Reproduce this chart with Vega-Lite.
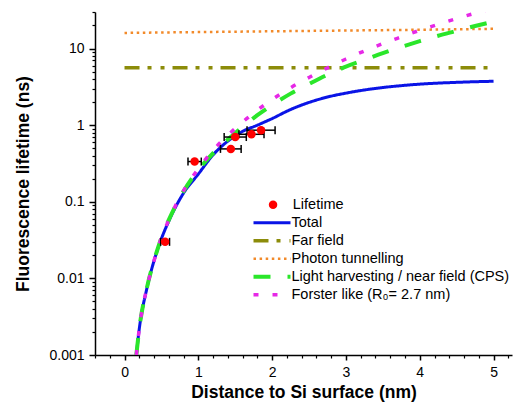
{
  "$schema": "https://vega.github.io/schema/vega-lite/v6.json",
  "width": 417,
  "height": 343,
  "autosize": {"type": "none"},
  "padding": {"left": 95, "top": 12, "right": 1, "bottom": 54},
  "config": {
    "view": {"stroke": null},
    "font": "Liberation Sans",
    "axis": {"grid": false, "domainColor": "black", "tickColor": "black", "labelColor": "black", "titleColor": "black", "labelFont": "Liberation Sans", "titleFont": "Liberation Sans"},
    "legend": {"labelFont": "Liberation Sans", "labelColor": "black", "labelFontSize": 14.5, "labelLimit": 400, "padding": 0, "rowPadding": 0, "clipHeight": 18, "title": null}
  },
  "datasets": {
    "curves": [
      {"series": "Total", "x": 0.16, "y": 0.001}, {"series": "Total", "x": 0.2, "y": 0.0022}, {"series": "Total", "x": 0.3, "y": 0.0072}, {"series": "Total", "x": 0.4, "y": 0.017}, {"series": "Total", "x": 0.5, "y": 0.033}, {"series": "Total", "x": 0.6, "y": 0.056}, {"series": "Total", "x": 0.8, "y": 0.13}, {"series": "Total", "x": 1.0, "y": 0.23}, {"series": "Total", "x": 1.2, "y": 0.41}, {"series": "Total", "x": 1.4, "y": 0.62}, {"series": "Total", "x": 1.6, "y": 0.83}, {"series": "Total", "x": 1.8, "y": 1.0}, {"series": "Total", "x": 2.0, "y": 1.22}, {"series": "Total", "x": 2.25, "y": 1.6}, {"series": "Total", "x": 2.5, "y": 1.98}, {"series": "Total", "x": 2.75, "y": 2.33}, {"series": "Total", "x": 3.0, "y": 2.62}, {"series": "Total", "x": 3.25, "y": 2.88}, {"series": "Total", "x": 3.5, "y": 3.1}, {"series": "Total", "x": 3.75, "y": 3.28}, {"series": "Total", "x": 4.0, "y": 3.43}, {"series": "Total", "x": 4.25, "y": 3.54}, {"series": "Total", "x": 4.5, "y": 3.62}, {"series": "Total", "x": 4.75, "y": 3.69}, {"series": "Total", "x": 5.0, "y": 3.74},
      {"series": "Far field", "x": 0, "y": 5.6}, {"series": "Far field", "x": 5, "y": 5.6},
      {"series": "Photon tunnelling", "x": 0, "y": 16.0}, {"series": "Photon tunnelling", "x": 1, "y": 16.4}, {"series": "Photon tunnelling", "x": 2, "y": 16.8}, {"series": "Photon tunnelling", "x": 3, "y": 17.2}, {"series": "Photon tunnelling", "x": 4, "y": 17.6}, {"series": "Photon tunnelling", "x": 5, "y": 18.1},
      {"series": "Light harvesting / near field (CPS)", "x": 0.16, "y": 0.001}, {"series": "Light harvesting / near field (CPS)", "x": 0.2, "y": 0.0022}, {"series": "Light harvesting / near field (CPS)", "x": 0.3, "y": 0.0073}, {"series": "Light harvesting / near field (CPS)", "x": 0.4, "y": 0.017}, {"series": "Light harvesting / near field (CPS)", "x": 0.5, "y": 0.034}, {"series": "Light harvesting / near field (CPS)", "x": 0.6, "y": 0.058}, {"series": "Light harvesting / near field (CPS)", "x": 0.8, "y": 0.137}, {"series": "Light harvesting / near field (CPS)", "x": 1.0, "y": 0.26}, {"series": "Light harvesting / near field (CPS)", "x": 1.2, "y": 0.43}, {"series": "Light harvesting / near field (CPS)", "x": 1.4, "y": 0.65}, {"series": "Light harvesting / near field (CPS)", "x": 1.6, "y": 0.95}, {"series": "Light harvesting / near field (CPS)", "x": 1.8, "y": 1.35}, {"series": "Light harvesting / near field (CPS)", "x": 2.0, "y": 1.83}, {"series": "Light harvesting / near field (CPS)", "x": 2.25, "y": 2.58}, {"series": "Light harvesting / near field (CPS)", "x": 2.5, "y": 3.45}, {"series": "Light harvesting / near field (CPS)", "x": 2.75, "y": 4.55}, {"series": "Light harvesting / near field (CPS)", "x": 3.0, "y": 5.8}, {"series": "Light harvesting / near field (CPS)", "x": 3.25, "y": 7.1}, {"series": "Light harvesting / near field (CPS)", "x": 3.5, "y": 8.7}, {"series": "Light harvesting / near field (CPS)", "x": 3.75, "y": 10.5}, {"series": "Light harvesting / near field (CPS)", "x": 4.0, "y": 12.5}, {"series": "Light harvesting / near field (CPS)", "x": 4.25, "y": 14.7}, {"series": "Light harvesting / near field (CPS)", "x": 4.5, "y": 17.0}, {"series": "Light harvesting / near field (CPS)", "x": 4.75, "y": 19.7}, {"series": "Light harvesting / near field (CPS)", "x": 5.0, "y": 22.5},
      {"series": "Forster like (R₀= 2.7 nm)", "x": 0.16, "y": 0.001}, {"series": "Forster like (R₀= 2.7 nm)", "x": 0.2, "y": 0.0022}, {"series": "Forster like (R₀= 2.7 nm)", "x": 0.3, "y": 0.0073}, {"series": "Forster like (R₀= 2.7 nm)", "x": 0.4, "y": 0.017}, {"series": "Forster like (R₀= 2.7 nm)", "x": 0.5, "y": 0.034}, {"series": "Forster like (R₀= 2.7 nm)", "x": 0.6, "y": 0.058}, {"series": "Forster like (R₀= 2.7 nm)", "x": 0.8, "y": 0.14}, {"series": "Forster like (R₀= 2.7 nm)", "x": 1.0, "y": 0.27}, {"series": "Forster like (R₀= 2.7 nm)", "x": 1.2, "y": 0.47}, {"series": "Forster like (R₀= 2.7 nm)", "x": 1.4, "y": 0.74}, {"series": "Forster like (R₀= 2.7 nm)", "x": 1.6, "y": 1.1}, {"series": "Forster like (R₀= 2.7 nm)", "x": 1.8, "y": 1.57}, {"series": "Forster like (R₀= 2.7 nm)", "x": 2.0, "y": 2.16}, {"series": "Forster like (R₀= 2.7 nm)", "x": 2.25, "y": 3.08}, {"series": "Forster like (R₀= 2.7 nm)", "x": 2.5, "y": 4.2}, {"series": "Forster like (R₀= 2.7 nm)", "x": 2.75, "y": 5.6}, {"series": "Forster like (R₀= 2.7 nm)", "x": 3.0, "y": 7.3}, {"series": "Forster like (R₀= 2.7 nm)", "x": 3.25, "y": 9.3}, {"series": "Forster like (R₀= 2.7 nm)", "x": 3.5, "y": 11.6}, {"series": "Forster like (R₀= 2.7 nm)", "x": 3.75, "y": 14.2}, {"series": "Forster like (R₀= 2.7 nm)", "x": 4.0, "y": 17.3}, {"series": "Forster like (R₀= 2.7 nm)", "x": 4.25, "y": 20.7}, {"series": "Forster like (R₀= 2.7 nm)", "x": 4.5, "y": 24.6}, {"series": "Forster like (R₀= 2.7 nm)", "x": 4.75, "y": 28.9}, {"series": "Forster like (R₀= 2.7 nm)", "x": 5.0, "y": 33.7}
    ],
    "lifetime": [
      {"series": "Lifetime", "x": 0.55, "y": 0.030, "xlo": 0.49, "xhi": 0.61},
      {"series": "Lifetime", "x": 0.95, "y": 0.335, "xlo": 0.86, "xhi": 1.04},
      {"series": "Lifetime", "x": 1.44, "y": 0.49, "xlo": 1.30, "xhi": 1.58},
      {"series": "Lifetime", "x": 1.50, "y": 0.70, "xlo": 1.35, "xhi": 1.65},
      {"series": "Lifetime", "x": 1.72, "y": 0.76, "xlo": 1.55, "xhi": 1.89},
      {"series": "Lifetime", "x": 1.85, "y": 0.86, "xlo": 1.66, "xhi": 2.04}
    ]
  },
  "layer": [
    {
      "data": {"name": "curves"},
      "mark": {"type": "line", "interpolate": "monotone", "clip": true, "strokeCap": "butt"},
      "encoding": {
        "x": {"field": "x", "type": "quantitative",
          "scale": {"domain": [-0.4, 5.25], "nice": false, "zero": false},
          "axis": {"orient": "bottom", "values": [0, 1, 2, 3, 4, 5], "title": "Distance to Si surface (nm)", "titleFontSize": 17.5, "titleFontWeight": "bold", "labelFontSize": 14, "tickSize": 5, "tickWidth": 1.5, "domainWidth": 1.5, "labelPadding": 5, "titlePadding": 4, "labelFlush": false}},
        "y": {"field": "y", "type": "quantitative",
          "scale": {"type": "log", "domain": [0.001, 30], "nice": false},
          "axis": {"orient": "left", "values": [0.001, 0.01, 0.1, 1, 10], "format": "~g", "title": "Fluorescence lifetime (ns)", "titleFontSize": 17.5, "titleFontWeight": "bold", "labelFontSize": 14, "tickSize": 6, "tickWidth": 1.5, "domainWidth": 1.5, "labelPadding": 5, "titlePadding": 16, "labelFlush": false}},
        "stroke": {"field": "series", "type": "nominal",
          "scale": {"domain": ["Total", "Far field", "Photon tunnelling", "Light harvesting / near field (CPS)", "Forster like (R₀= 2.7 nm)"], "range": ["#0a14e6", "#8c8c0a", "#f28a2a", "#2ae62a", "#e628e6"]},
          "legend": {"orient": "none", "legendX": 156.5, "legendY": 201.7, "symbolType": "stroke", "symbolSize": 1369, "labelOffset": -1}},
        "strokeDash": {"field": "series", "type": "nominal",
          "scale": {"domain": ["Total", "Far field", "Photon tunnelling", "Light harvesting / near field (CPS)", "Forster like (R₀= 2.7 nm)"], "range": [[1, 0], [15, 8, 4, 9, 4, 8], [2.5, 3.6], [17, 17], [5, 14]]},
          "legend": {"orient": "none", "legendX": 156.5, "legendY": 201.7, "symbolType": "stroke", "symbolSize": 1369, "labelOffset": -1}},
        "strokeWidth": {"field": "series", "type": "nominal",
          "scale": {"type": "ordinal", "domain": ["Total", "Far field", "Photon tunnelling", "Light harvesting / near field (CPS)", "Forster like (R₀= 2.7 nm)"], "range": [3, 3.5, 2.5, 4, 3.5]},
          "legend": {"orient": "none", "legendX": 156.5, "legendY": 201.7, "symbolType": "stroke", "symbolSize": 1369, "labelOffset": -1}}
      }
    },
    {
      "data": {"name": "lifetime"},
      "mark": {"type": "rule", "color": "black", "strokeWidth": 1.5},
      "encoding": {
        "x": {"field": "xlo", "type": "quantitative", "axis": null},
        "x2": {"field": "xhi"},
        "y": {"field": "y", "type": "quantitative", "axis": null}
      }
    },
    {
      "data": {"name": "lifetime"},
      "mark": {"type": "tick", "orient": "vertical", "color": "black", "size": 8, "thickness": 1.5, "opacity": 1},
      "encoding": {
        "x": {"field": "xlo", "type": "quantitative", "axis": null},
        "y": {"field": "y", "type": "quantitative", "axis": null}
      }
    },
    {
      "data": {"name": "lifetime"},
      "mark": {"type": "tick", "orient": "vertical", "color": "black", "size": 8, "thickness": 1.5, "opacity": 1},
      "encoding": {
        "x": {"field": "xhi", "type": "quantitative", "axis": null},
        "y": {"field": "y", "type": "quantitative", "axis": null}
      }
    },
    {
      "data": {"name": "lifetime"},
      "mark": {"type": "point", "filled": true, "shape": "circle", "size": 72, "opacity": 1},
      "encoding": {
        "x": {"field": "x", "type": "quantitative",
          "axis": {"orient": "bottom", "values": [-0.4, -0.2, 0.2, 0.4, 0.6, 0.8, 1.2, 1.4, 1.6, 1.8, 2.2, 2.4, 2.6, 2.8, 3.2, 3.4, 3.6, 3.8, 4.2, 4.4, 4.6, 4.8, 5.2], "labels": false, "domain": false, "tickSize": 3, "tickWidth": 1.2, "title": null}},
        "y": {"field": "y", "type": "quantitative",
          "axis": {"orient": "left", "values": [0.002, 0.003, 0.004, 0.005, 0.006, 0.007, 0.008, 0.009, 0.02, 0.03, 0.04, 0.05, 0.06, 0.07, 0.08, 0.09, 0.2, 0.3, 0.4, 0.5, 0.6, 0.7, 0.8, 0.9, 2, 3, 4, 5, 6, 7, 8, 9, 20, 30], "labels": false, "domain": false, "tickSize": 3, "tickWidth": 1.2, "title": null}},
        "fill": {"field": "series", "type": "nominal",
          "scale": {"domain": ["Lifetime"], "range": ["#ff0000"]},
          "legend": {"orient": "none", "legendX": 170.8, "legendY": 183.7, "symbolType": "circle", "symbolSize": 72, "labelOffset": 12.5}}
      }
    }
  ],
  "resolve": {"axis": {"x": "independent", "y": "independent"}}
}
